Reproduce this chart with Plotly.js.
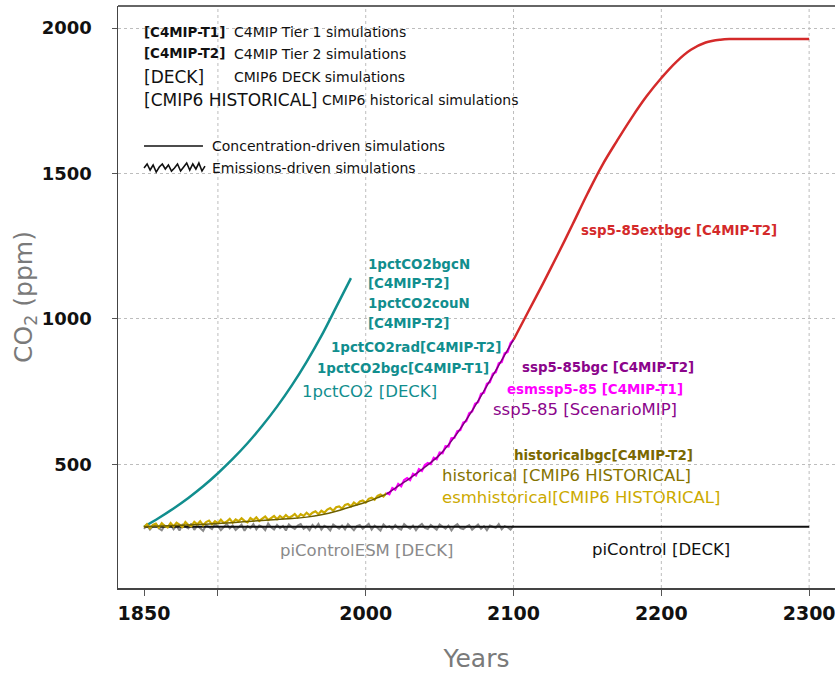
<!DOCTYPE html>
<html>
<head>
<meta charset="utf-8">
<script src="https://cdn.plot.ly/plotly-3.0.1.min.js"></script>
<style>html,body{margin:0;padding:0;background:#fff;overflow:hidden;}#chart{width:835px;height:677px;}</style>
</head>
<body>
<div id="chart"></div>
<script>
// ---------- DATA ----------
const years1pct = [1850,1860,1870,1880,1890,1900,1910,1920,1930,1940,1950,1960,1970,1980,1990];
const co2_1pct  = [285,315,348,384,424,469,518,572,632,698,771,852,941,1040,1140];

const yearsPiControl = [1850,2300];
const co2_piControl  = [285,285];

// emissions-driven piControl, every 2 years from 1850
const piEsmStart = 1850;
const co2_piControlESM = [278,291,275,287,294,280,273,289,283,293,
 276,288,272,292,285,279,296,274,289,281,
 271,290,283,277,294,287,273,285,295,279,
 289,274,283,292,271,287,280,294,276,289,
 285,273,296,283,275,291,280,288,272,293,
 283,277,289,294,278,285,273,291,281,295,
 275,288,283,272,293,285,278,289,276,294,
 283,273,287,291,278,285,295,275,289,281,
 272,293,283,287,277,291,280,275,294,285,
 278,289,273,287,295,281,277,291,283,275,
 293,285,278,289,272,287,294,280,277,285,
 291,275,283,293,278,287,273,289,285,281,
 294,276,287,283,275,289];

const yearsHist = [1850,1880,1900,1920,1940,1950,1960,1970,1980,1990,2000,2010,2014];
const co2_hist  = [285,291,296,303,310,313,318,326,338,354,369,389,397];

// emissions-driven historical, every 2 years from 1850
const esmHistStart = 1850;
const co2_esmHist = [283,294,280,291,296,282,297,287,283,298,
 286,299,292,284,301,291,287,302,293,304,
 290,301,306,293,304,297,309,298,303,312,
 299,310,304,314,305,300,315,308,317,305,
 313,320,308,316,322,311,322,314,325,316,
 321,329,317,328,322,333,324,333,338,328,
 340,333,344,349,340,352,355,347,360,363,
 355,368,361,372,375,368,381,385,378,391,
 396,389,401];

const yearsSsp = [2014,2020,2030,2040,2050,2060,2070,2080,2090,2100];
const co2_ssp  = [397,418,452,490,532,593,668,752,840,928];

// emissions-driven ssp5-85, every 2 years from 2014
const esmSspStart = 2014;
const co2_esmSsp = [402,397,418,412,432,424,446,452,445,467,
 461,483,477,497,504,500,522,517,540,538,
 562,561,589,591,614,617,643,648,675,681,
 708,713,742,746,777,782,811,816,847,851,
 881,886,917,929];

const yearsExt = [2100,2110,2120,2130,2140,2150,2160,2170,2180,2190,2200,2210,2220,2230,2240,2248,2270,2300];
const co2_ext  = [928,1025,1122,1222,1325,1430,1528,1612,1692,1765,1828,1883,1925,1950,1960,1962,1962,1962];

const xTickVals = [1850,2000,2100,2200,2300];
const xTickText = ['1850','2000','2100','2200','2300'];
const xMinorTickVals = [1900];
const xGridVals = [1900,2000,2100,2200,2300];
const yTickVals = [500,1000,1500,2000];

// ---------- helpers ----------
function stepYears(start, n){ const a=[]; for(let i=0;i<n;i++) a.push(start+2*i); return a; }

const FONT = 'DejaVu Sans, Verdana, sans-serif';
const C = {
  teal:'#118e8e', grey:'#8a8a8a', black:'#111111', yellow:'#ccaa00', olive:'#6e6000',
  oliveTxt:'#857300', oliveBold:'#7a6800', magenta:'#ff00ff', purple:'#7d007d',
  purpleTxt:'#8b058b', red:'#d42a2a'
};

const traces = [
  {x:years1pct, y:co2_1pct, mode:'lines', line:{color:C.teal, width:2.5, shape:'spline'}},
  {x:stepYears(piEsmStart, co2_piControlESM.length), y:co2_piControlESM, mode:'lines', line:{color:C.grey, width:2}},
  {x:yearsPiControl, y:co2_piControl, mode:'lines', line:{color:C.black, width:1.8}},
  {x:stepYears(esmHistStart, co2_esmHist.length), y:co2_esmHist, mode:'lines', line:{color:C.yellow, width:2.2}},
  {x:yearsHist, y:co2_hist, mode:'lines', line:{color:C.olive, width:1.5, shape:'spline'}},
  {x:stepYears(esmSspStart, co2_esmSsp.length), y:co2_esmSsp, mode:'lines', line:{color:C.magenta, width:2.2}},
  {x:yearsSsp, y:co2_ssp, mode:'lines', line:{color:C.purple, width:1.5, shape:'spline'}},
  {x:yearsExt, y:co2_ext, mode:'lines', line:{color:C.red, width:2.5, shape:'spline', smoothing:1.1}}
];
traces.forEach(t=>{t.showlegend=false; t.hoverinfo='skip';});

function ann(text, x, y, size, color, opts){
  return Object.assign({text:text, x:x, y:y, xref:'x', yref:'y', showarrow:false,
    xanchor:'left', yanchor:'middle', font:{family:FONT, size:size, color:color}}, opts||{});
}
const B = 13.4, N = 16.5;
const annotations = [
  // legend block
  ann('<b>[C4MIP-T1]</b>', 1848.6, 1986, B, '#111'),
  ann('C4MIP Tier 1 simulations', 1909.5, 1986, 14, '#111'),
  ann('<b>[C4MIP-T2]</b>', 1848.6, 1911, B, '#111'),
  ann('C4MIP Tier 2 simulations', 1909.5, 1911, 14, '#111'),
  ann('[DECK]', 1848.6, 1832, 17, '#111'),
  ann('CMIP6 DECK simulations', 1909.5, 1832, 14, '#111'),
  ann('[CMIP6 HISTORICAL]', 1848.6, 1753, 17, '#111'),
  ann('CMIP6 historical simulations', 1969, 1753, 14, '#111'),
  ann('Concentration-driven simulations', 1894.6, 1594, 14, '#111'),
  ann('Emissions-driven simulations', 1894.6, 1518, 14, '#111'),
  // 1pctCO2 labels
  ann('<b>1pctCO2bgcN</b>', 2000.2, 1188, B, C.teal),
  ann('<b>[C4MIP-T2]</b>', 2000.2, 1123, B, C.teal),
  ann('<b>1pctCO2couN</b>', 2000.2, 1054, B, C.teal),
  ann('<b>[C4MIP-T2]</b>', 2000.2, 985, B, C.teal),
  ann('<b>1pctCO2rad[C4MIP-T2]</b>', 1975.1, 903, B, C.teal),
  ann('<b>1pctCO2bgc[C4MIP-T1]</b>', 1965.7, 830, B, C.teal),
  ann('1pctCO2 [DECK]', 1955.5, 751, N, C.teal),
  // ssp labels
  ann('<b>ssp5-85extbgc [C4MIP-T2]</b>', 2144.3, 1302, B, C.red),
  ann('<b>ssp5-85bgc [C4MIP-T2]</b>', 2104.4, 834, B, C.purpleTxt),
  ann('<b>esmssp5-85 [C4MIP-T1]</b>', 2094.2, 758, B, C.magenta),
  ann('ssp5-85 [ScenarioMIP]', 2084.8, 689, N, C.purpleTxt),
  // historical labels
  ann('<b>historicalbgc[C4MIP-T2]</b>', 2099, 531, B, C.oliveBold),
  ann('historical [CMIP6 HISTORICAL]', 2050.2, 462, N, C.oliveTxt),
  ann('esmhistorical[CMIP6 HISTORICAL]', 2050.2, 387, N, C.yellow),
  // piControl labels
  ann('piControlESM [DECK]', 1940.6, 203, N, C.grey),
  ann('piControl [DECK]', 2200, 207, N, C.black, {xanchor:'center'})
];

// shapes: vertical dotted grid, top frame line, legend line samples
const shapes = [];
xGridVals.forEach(v=>shapes.push({type:'line', xref:'x', yref:'paper', x0:v, x1:v, y0:0, y1:1,
  line:{color:'#bdbdbd', width:1, dash:'dot'}, layer:'below'}));
shapes.push({type:'line', xref:'paper', yref:'paper', x0:0, x1:1, y0:1, y1:1, line:{color:'#333', width:1.5}});
// legend sample: concentration-driven (straight line)
shapes.push({type:'line', xref:'paper', yref:'paper', x0:0.0363, x1:0.1185, y0:0.7595, y1:0.7595, line:{color:'#111', width:1.6}});
// legend sample: emissions-driven (wiggly line)
const wig = [0,4,-2,3,-4,1,4,-1,3,-3,0,4,-3,1,5,-2,4,-1,5,-3,2];
let p = '';
wig.forEach((o,i)=>{ const xx = 0.0363 + i*(0.085/(wig.length-1)); const yy = 0.7216 + o/582; p += (i?'L':'M')+xx.toFixed(4)+','+yy.toFixed(4)+' '; });
shapes.push({type:'path', xref:'paper', yref:'paper', path:p, line:{color:'#111', width:1.6}});

const layout = {
  width:835, height:677,
  margin:{l:118, r:0, t:6, b:89, pad:0},
  paper_bgcolor:'#fff', plot_bgcolor:'#fff',
  showlegend:false,
  font:{family:FONT},
  xaxis:{
    range:[1832.4, 2317.5], tickvals:xTickVals, ticktext:xTickText,
    ticks:'outside', ticklen:6, tickcolor:'#555', tickwidth:1,
    minor:{tickvals:xMinorTickVals, ticks:'outside', ticklen:6, tickcolor:'#555', tickwidth:1, showgrid:false},
    showline:true, linecolor:'#444', linewidth:1.5,
    showgrid:false, zeroline:false, ticklabelstandoff:2, ticklabeloverflow:'allow',
    tickfont:{family:FONT, size:19, color:'#111', weight:'bold'},
    title:{text:'Years', font:{family:FONT, size:25, color:'#7a7a7a'}, standoff:26}
  },
  yaxis:{
    range:[74.3, 2075.7], tickvals:yTickVals,
    ticks:'outside', ticklen:5, tickcolor:'#555', tickwidth:1,
    showline:true, linecolor:'#444', linewidth:1.5,
    showgrid:true, gridcolor:'#bdbdbd', griddash:'dot', gridwidth:1,
    zeroline:false, ticklabelstandoff:16,
    tickfont:{family:FONT, size:18, color:'#111', weight:'bold'},
    title:{text:'CO<sub>2</sub> (ppm)', font:{family:FONT, size:25, color:'#7a7a7a'}, standoff:2}
  },
  annotations:annotations,
  shapes:shapes
};

Plotly.newPlot('chart', traces, layout, {staticPlot:true, displayModeBar:false});
</script>
</body>
</html>
